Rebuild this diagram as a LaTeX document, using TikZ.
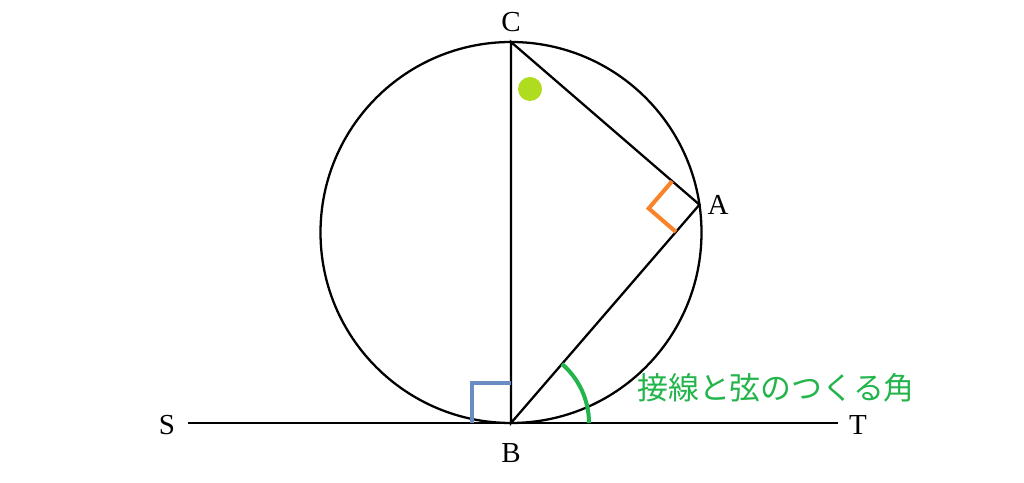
\documentclass[tikz,border=0pt]{standalone}
\usepackage{fontspec}
\setmainfont{Liberation Serif}
\newfontfamily\jpfont{Noto Sans CJK JP}
\usetikzlibrary{calc}
\definecolor{markorange}{RGB}{250,130,40}
\definecolor{markblue}{RGB}{105,140,195}
\definecolor{markgreen}{RGB}{35,180,75}
\definecolor{dotgreen}{RGB}{175,220,30}
\tikzset{
	lbl/.style={font=\fontsize{16.5}{19}\selectfont, inner sep=1pt},
	anglemark/.style={line width=2.3pt}
}

\begin{document}
\begin{tikzpicture}[x=0.02cm, y=0.02cm, line width=1.3pt]
		%%%%% START %%%%%
		\useasboundingbox (0, 0) rectangle (1024, 483);
		
		\coordinate (O) at (511, 250.5);
		\coordinate (B) at (511, 60);
		\coordinate (C) at (511, 441);
		\coordinate (A) at ($(O)+(8.4:190.5)$);
		\coordinate (Send) at (188, 60);
		\coordinate (Tend) at (838, 60);
		
		\draw (O) circle (190.5);
		\draw (Send) -- (Tend);
		\draw (C) -- (B) -- (A) -- cycle;
		
		% right angle at A
		\coordinate (A1) at ($(A)!0.72cm!(C)$);
		\coordinate (A2) at ($(A)!0.72cm!(B)$);
		\draw[anglemark, markorange] (A1) -- ($(A1)+(A2)-(A)$) -- (A2);
		
		% right angle at B
		\draw[anglemark, markblue] ($(B)+(-39, 0)$) |- ($(B)+(0, 40)$);
		
		% angle between tangent and chord
		\draw[anglemark, markgreen] ($(B)+(49.2:78)$) arc (49.2:0:78);
		
		\fill[dotgreen] (530, 394) circle (12);
		
		\node[lbl] (labC) at (511, 461) {C};
		\node[lbl] (labB) at (511, 30) {B};
		\node[lbl] (labA) at (718, 278) {A};
		\node[lbl] (labS) at (167, 58) {S};
		\node[lbl] (labT) at (858, 58) {T};
		\node[markgreen, font=\jpfont\fontsize{17.6}{20}\selectfont] (note) at (776, 95) {接線と弦のつくる角};
		%%%%% END %%%%%
	\end{tikzpicture}
\end{document}
